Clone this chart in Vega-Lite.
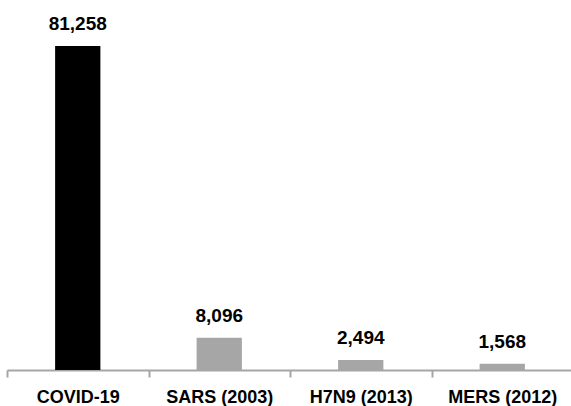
{
  "$schema": "https://vega.github.io/schema/vega-lite/v6.json",
  "width": 566,
  "height": 370,
  "autosize": "none",
  "padding": {"left": 7, "top": 0, "right": 0, "bottom": 36},
  "background": "white",
  "config": {"view": {"stroke": null}},
  "data": {
    "values": [
      {"outbreak": "COVID-19", "cases": 81258, "current": true},
      {"outbreak": "SARS (2003)", "cases": 8096, "current": false},
      {"outbreak": "H7N9 (2013)", "cases": 2494, "current": false},
      {"outbreak": "MERS (2012)", "cases": 1568, "current": false}
    ]
  },
  "encoding": {
    "x": {
      "field": "outbreak",
      "type": "nominal",
      "sort": null,
      "scale": {"paddingInner": 0, "paddingOuter": 0},
      "axis": {
        "title": null,
        "labelAngle": 0,
        "tickBand": "extent",
        "domainColor": "#a6a6a6",
        "domainWidth": 2,
        "tickColor": "#a6a6a6",
        "tickWidth": 2,
        "tickSize": 7,
        "labelPadding": 11,
        "labelFont": "Liberation Sans",
        "labelFontSize": 18,
        "labelFontWeight": "bold",
        "labelColor": "#000000"
      }
    },
    "y": {
      "field": "cases",
      "type": "quantitative",
      "scale": {"domain": [0, 92800], "nice": false},
      "axis": null
    }
  },
  "layer": [
    {
      "mark": {"type": "bar", "width": {"band": 0.32}},
      "encoding": {
        "color": {
          "field": "current",
          "type": "nominal",
          "scale": {"domain": [true, false], "range": ["#000000", "#a6a6a6"]},
          "legend": null
        }
      }
    },
    {
      "mark": {
        "type": "text",
        "baseline": "alphabetic",
        "dy": -16,
        "font": "Liberation Sans",
        "fontSize": 19,
        "fontWeight": "bold",
        "color": "#000000"
      },
      "encoding": {
        "text": {"field": "cases", "type": "quantitative", "format": ","}
      }
    }
  ]
}
